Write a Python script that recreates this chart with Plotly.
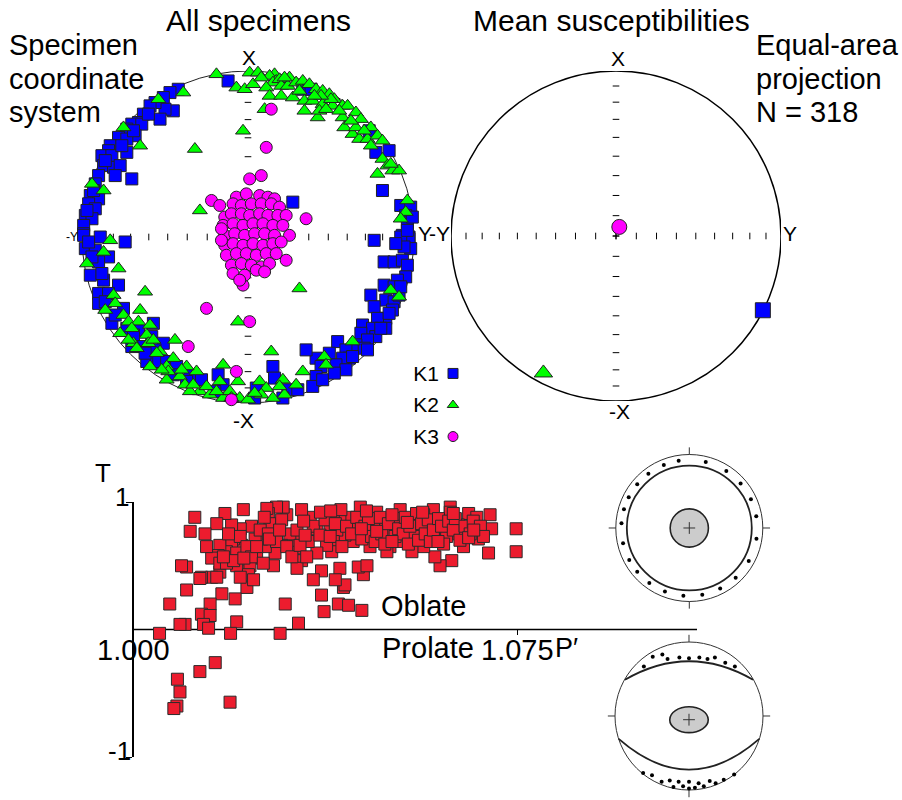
import numpy as np
import plotly.graph_objects as go

W, H = 902, 800
FONT = "Liberation Sans, Arial, sans-serif"

# ---------------- DATA ----------------
# Equal-area projected positions (east, north) on the unit primitive circle, all specimens
k1_all = [
    (-0.12,0.94),(-0.42,0.89),(-0.47,0.87),(-0.51,0.84),(-0.45,0.76),(-0.50,0.77),(-0.56,0.81),(-0.59,0.79),
    (-0.53,0.71),(-0.63,0.74),(-0.66,0.69),(-0.70,0.68),(-0.64,0.68),(-0.73,0.65),(-0.68,0.61),(-0.78,0.60),
    (-0.73,0.59),(-0.83,0.55),(-0.84,0.52),(-0.73,0.51),(-0.88,0.49),(-0.82,0.49),(-0.87,0.43),(-0.81,0.42),
    (-0.77,0.43),(-0.80,0.37),(-0.70,0.35),(-0.90,0.37),(-0.92,0.32),(-0.95,0.25),(-0.90,0.23),(-0.96,0.20),
    (-0.92,0.17),(-0.98,0.13),(-0.94,0.11),(-0.99,0.07),(-0.99,0.02),(-0.89,0.00),(-0.74,-0.03),
    (0.33,0.89),(0.38,0.89),(0.73,0.64),(0.77,0.51),(0.85,0.52),(0.81,0.28),(0.27,0.21),(0.92,0.19),
    (0.98,0.18),(0.95,0.13),(0.96,0.09),(0.99,0.12),(0.93,0.01),(0.97,0.00),(0.76,-0.02),
    (-0.99,0.01),(-0.98,-0.07),(-0.92,-0.08),(-0.84,-0.12),(-0.90,-0.15),(-0.95,-0.23),(-0.87,-0.26),
    (-0.78,-0.29),(-0.90,-0.34),(-0.84,-0.34),(-0.90,-0.40),(-0.86,-0.39),(-0.75,-0.43),(-0.82,-0.52),
    (-0.57,-0.52),(-0.73,-0.55),(-0.66,-0.56),(-0.69,-0.59),(-0.58,-0.60),(-0.51,-0.64),(-0.63,-0.66),
    (-0.56,-0.68),(-0.55,-0.75),(-0.61,-0.75),(-0.49,-0.75),(-0.43,-0.78),(-0.35,-0.83),(-0.28,-0.86),
    (-0.37,-0.87),(-0.18,-0.83),(-0.15,-0.89),(-0.20,-0.93),
    (0.97,-0.01),(0.92,0.00),(0.98,-0.07),(0.82,-0.15),(0.88,-0.15),(0.93,-0.14),(0.96,-0.17),(0.95,-0.24),
    (0.90,-0.26),(0.82,-0.29),(0.88,-0.30),(0.74,-0.35),(0.83,-0.38),(0.88,-0.39),(0.91,-0.35),(0.76,-0.42),
    (0.87,-0.44),(0.83,-0.49),(0.78,-0.49),(0.69,-0.53),(0.75,-0.55),(0.83,-0.55),(0.77,-0.60),(0.68,-0.58),
    (0.72,-0.62),(0.54,-0.63),(0.65,-0.65),(0.70,-0.67),(0.59,-0.68),(0.61,-0.73),(0.57,-0.73),(0.49,-0.70),
    (0.53,-0.77),(0.59,-0.80),(0.41,-0.73),(0.35,-0.68),(0.44,-0.78),(0.41,-0.84),(0.39,-0.90),(0.15,-0.78),
    (0.16,-0.85),(0.05,-0.91),(0.04,-0.97),(0.24,-0.92),(0.21,-0.97),
    (-0.60,0.74),(-0.69,0.64),(-0.76,0.55),(-0.86,0.46),(-0.93,0.28),(-0.97,0.16),(-0.96,-0.03),
    (-0.94,-0.12),(-0.88,-0.22),(-0.80,-0.47),(-0.70,-0.66),(-0.62,-0.70),(-0.45,-0.83),(0.30,-0.92),
    (0.45,-0.86),(0.52,-0.82),(0.63,-0.72),(0.72,-0.68),(0.80,-0.55),(0.85,-0.46),(0.92,-0.30),
    (0.94,-0.06),(0.89,-0.04),(0.96,0.04),
]
k2_all = [
    (-0.19,0.98),(-0.39,0.87),(-0.54,0.83),(-0.75,0.66),(-0.65,0.55),(-0.32,0.53),(-0.94,0.32),(-0.87,0.28),
    (-0.29,0.16),(-0.03,0.64),(-0.07,0.90),(-0.02,0.89),
    (0.01,0.99),(0.06,0.99),(0.16,0.98),(0.13,0.97),(0.17,0.94),(0.15,0.93),(0.19,0.95),(0.03,0.92),
    (0.11,0.90),(0.13,0.85),(0.20,0.91),(0.24,0.91),(0.25,0.96),(0.29,0.93),(0.33,0.94),(0.37,0.92),
    (0.41,0.89),(0.45,0.88),(0.49,0.86),(0.52,0.83),(0.20,0.85),(0.27,0.84),(0.34,0.82),(0.39,0.82),
    (0.45,0.80),(0.51,0.79),(0.50,0.83),(0.44,0.85),(0.34,0.76),(0.42,0.72),(0.43,0.76),(0.47,0.77),
    (0.57,0.79),(0.60,0.79),(0.65,0.75),(0.68,0.71),(0.57,0.72),(0.58,0.66),(0.63,0.62),(0.65,0.66),
    (0.74,0.66),(0.67,0.59),(0.72,0.59),(0.78,0.61),(0.81,0.58),(0.74,0.55),(0.81,0.47),(0.84,0.43),
    (0.87,0.40),(0.91,0.40),(0.78,0.38),(0.86,0.44),(0.96,0.22),(0.95,0.15),(0.92,0.11),(0.10,0.77),
    (-0.83,-0.02),(-0.87,-0.09),(-0.97,-0.16),(-0.78,-0.19),(-0.81,-0.35),(-0.62,-0.33),(-0.86,-0.44),
    (-0.65,-0.44),(-0.75,-0.47),(-0.72,-0.51),(-0.66,-0.51),(-0.59,-0.53),(-0.61,-0.59),(-0.77,-0.58),
    (-0.69,-0.64),(-0.67,-0.67),(-0.60,-0.64),(-0.53,-0.69),(-0.44,-0.62),(-0.45,-0.73),(-0.49,-0.78),
    (-0.59,-0.78),(-0.41,-0.84),(-0.49,-0.86),(-0.48,-0.81),(-0.38,-0.89),(-0.29,-0.93),(-0.35,-0.93),
    (-0.23,-0.95),(-0.17,-0.87),(-0.15,-0.97),(-0.06,-0.51),(-0.06,-0.87),(-0.11,-0.93),(-0.05,-0.97),
    (-0.31,-0.81),(-0.37,-0.78),(-0.15,-0.77),(0.31,-0.31),
    (0.86,-0.32),(0.91,-0.36),(0.63,-0.63),(0.46,-0.72),(0.47,-0.77),(0.33,-0.81),(0.14,-0.69),
    (0.21,-0.86),(0.29,-0.89),(0.07,-0.87),(0.11,-0.91),(0.08,-0.95),(0.15,-0.97),(0.22,-0.95),
    (0.00,-0.98),(0.19,-0.90),
    (0.08,0.96),(0.22,0.96),(0.31,0.88),(0.40,0.85),(0.55,0.76),(0.62,0.70),(0.70,0.64),(-0.55,-0.70),
    (-0.52,-0.80),(-0.40,-0.80),(-0.33,-0.89),(-0.25,-0.90),(-0.19,-0.93),(-0.10,-0.97),(0.04,-0.94),
    (-0.70,-0.55),(-0.80,-0.40),(-0.72,-0.62),(-0.57,-0.62),
]
k3_all = [
    (0.14,0.77),(0.11,0.54),(0.08,0.37),(0.01,0.35),(-0.22,0.22),(-0.17,0.19),(0.35,0.11),(0.25,0.01),
    (0.23,-0.14),(-0.03,-0.29),(-0.25,-0.43),(0.01,-0.51),(-0.36,-0.66),(-0.07,-0.81),(-0.10,-0.98),
    (-0.07,0.24),(-0.01,0.26),(0.07,0.25),(0.12,0.24),(0.16,0.23),
    (-0.09,0.20),(-0.04,0.19),(0.02,0.20),(0.08,0.20),(0.14,0.20),(0.19,0.18),
    (-0.14,0.12),(-0.10,0.14),(-0.04,0.14),(0.01,0.13),(0.07,0.14),(0.12,0.13),(0.18,0.13),(0.23,0.13),
    (-0.15,0.07),(-0.09,0.08),(-0.03,0.07),(0.03,0.08),(0.09,0.08),(0.15,0.07),(0.21,0.07),
    (-0.14,0.01),(-0.08,0.02),(-0.02,0.01),(0.04,0.02),(0.10,0.02),(0.16,0.01),(-0.16,0.05),
    (-0.14,-0.05),(-0.09,-0.04),(-0.03,-0.05),(0.03,-0.04),(0.09,-0.05),(0.15,-0.04),(0.20,-0.03),
    (-0.16,-0.02),(-0.13,-0.11),(-0.07,-0.10),(-0.01,-0.10),(0.05,-0.11),(0.11,-0.10),(0.17,-0.10),
    (-0.10,-0.17),(-0.04,-0.16),(0.02,-0.17),(0.08,-0.18),(0.13,-0.16),
    (-0.09,-0.22),(-0.02,-0.23),(0.05,-0.20),(0.10,-0.21),(-0.05,-0.26),
]
# Mean principal axes (east, north)
mean_axes = {"K1": (0.89, -0.45), "K2": (-0.44, -0.83), "K3": (0.02, 0.055)}

# Jelinek plot: (P', T) per specimen
pt_pairs = [
    (1.0748,0.79),(1.0748,0.61),(1.0697,0.90),(1.0700,0.79),(1.0694,0.60),(1.0655,0.91),(1.0671,0.88),
    (1.0674,0.71),(1.0645,0.65),(1.0619,0.96),(1.0619,0.92),(1.0635,0.82),(1.0635,0.75),(1.0622,0.54),
    (1.0599,0.50),(1.0589,0.57),(1.0586,0.94),(1.0586,0.83),(1.0593,0.74),(1.0612,0.73),(1.0567,0.90),
    (1.0560,0.78),(1.0567,0.65),(1.0544,0.61),(1.0547,0.73),(1.0550,0.85),(1.0521,0.94),(1.0521,0.87),
    (1.0524,0.69),(1.0508,0.81),(1.0501,0.65),(1.0495,0.61),(1.0495,0.75),(1.0488,0.85),(1.0475,0.92),
    (1.0469,0.82),(1.0462,0.65),(1.0443,0.96),(1.0449,0.43),(1.0439,0.49),(1.0456,0.50),(1.0429,0.83),
    (1.0429,0.69),(1.0413,0.74),(1.0420,0.88),(1.0403,0.86),(1.0403,0.48),(1.0397,0.78),(1.0390,0.69),
    (1.0390,0.92),(1.0387,0.61),(1.0384,0.82),(1.0377,0.66),(1.0367,0.46),(1.0358,0.79),(1.0351,0.39),
    (1.0358,0.60),(1.0345,0.88),(1.0341,0.69),(1.0328,0.94),(1.0328,0.54),(1.0322,0.64),(1.0319,0.48),
    (1.0315,0.70),(1.0305,0.75),(1.0299,0.90),(1.0292,0.96),(1.0289,0.66),(1.0279,0.96),(1.0276,0.60),
    (1.0273,0.77),(1.0263,0.91),(1.0260,0.95),(1.0266,0.83),(1.0257,0.65),(1.0273,0.50),(1.0250,0.71),
    (1.0240,0.56),(1.0237,0.71),(1.0230,0.81),(1.0221,0.46),(1.0227,0.50),(1.0221,0.33),(1.0214,0.94),
    (1.0211,0.66),(1.0208,0.79),(1.0201,0.50),(1.0195,0.71),(1.0191,0.67),(1.0191,0.82),(1.0181,0.61),
    (1.0178,0.91),(1.0168,0.45),(1.0168,0.66),(1.0165,0.58),(1.0162,0.83),(1.0152,0.56),(1.0152,0.41),
    (1.0139,0.75),(1.0132,0.41),(1.0129,0.40),(1.0119,0.88),(1.0110,0.77),(1.0103,0.49),(1.0093,0.50),
    (1.0103,0.31),(1.0070,0.20),(1.0142,0.65),(1.0172,0.28),(1.0198,0.24),(1.0201,0.06),(1.0296,0.20),
    (1.0322,0.05),(1.0367,0.27),(1.0372,0.14),(1.0400,0.20),(1.0420,0.19),(1.0446,0.15),(1.0410,0.33),
    (1.0413,0.35),(1.0394,0.39),(1.0149,0.20),(1.0132,0.12),(1.0149,0.11),(1.0136,0.04),(1.0146,0.01),
    (1.0100,0.04),(1.0090,0.04),(1.0050,-0.03),(1.0189,-0.03),(1.0286,-0.03),(1.0159,-0.26),
    (1.0129,-0.33),(1.0085,-0.39),(1.0090,-0.49),(1.0084,-0.60),(1.0078,-0.62),(1.0188,-0.57),
    (1.0351,0.81),(1.0364,0.74),(1.0374,0.86),(1.0384,0.73),(1.0394,0.83),(1.0407,0.65),(1.0416,0.81),
    (1.0426,0.75),(1.0436,0.88),(1.0446,0.71),(1.0452,0.81),(1.0459,0.87),(1.0465,0.73),(1.0472,0.69),
    (1.0482,0.88),(1.0485,0.75),(1.0491,0.67),(1.0498,0.83),(1.0505,0.90),(1.0511,0.73),(1.0518,0.79),
    (1.0527,0.75),(1.0531,0.88),(1.0537,0.67),(1.0540,0.81),(1.0553,0.91),(1.0557,0.70),(1.0563,0.83),
    (1.0570,0.75),(1.0576,0.86),(1.0580,0.69),(1.0586,0.78),(1.0596,0.87),(1.0602,0.81),(1.0606,0.67),
    (1.0616,0.85),(1.0625,0.78),(1.0629,0.87),(1.0638,0.70),(1.0648,0.81),(1.0658,0.75),(1.0664,0.85),
    (1.0678,0.81),(1.0684,0.73),(1.0201,0.60),(1.0208,0.73),(1.0221,0.65),(1.0230,0.57),(1.0240,0.65),
    (1.0247,0.78),(1.0253,0.52),(1.0263,0.75),(1.0279,0.69),(1.0289,0.86),(1.0299,0.65),(1.0309,0.57),
    (1.0319,0.78),(1.0325,0.66),(1.0332,0.85),(1.0338,0.57),(1.0224,0.43),(1.0234,0.39),(1.0162,0.41),
    (1.0168,0.52),(1.0181,0.52),(1.0195,0.54),(1.0208,0.41),
    (1.0335,0.74),(1.0365,0.92),(1.0405,0.94),(1.0445,0.79),(1.0475,0.77),(1.0505,0.69),(1.0535,0.84),
    (1.0565,0.92),(1.0595,0.69),(1.0625,0.91),(1.0655,0.72),(1.0665,0.78),(1.0455,0.93),(1.0385,0.93),
    (1.0265,0.71),(1.0285,0.78),(1.0215,0.56),(1.0185,0.75),(1.0175,0.57),(1.0255,0.88),
]
p_ticks = [1.000, 1.075]
p_tick_text = ["1.000", "1.075"]
t_ticks = [-1, 1]
t_tick_text = ["-1", "1"]

legend_labels = ["K1", "K2", "K3"]
legend_symbols = ["square", "triangle-up", "circle"]
legend_colors = ["#0000FF", "#00FF00", "#FF00FF"]

plunge_ticks = [10, 20, 30, 40, 50, 60, 70, 80, 90]

# schematic fabric icons (unit circle)
oblate_dot_angles = [10,25,41,57,76,99,112,127,140,153,164,176,193,208,220,234,249,265,281,297,313,331,351]
prolate_dots = [
    (-0.61,0.67),(-0.49,0.80),(-0.36,0.83),(-0.29,0.77),(-0.13,0.79),(0.00,0.78),(0.14,0.79),(0.25,0.77),
    (0.35,0.79),(0.49,0.72),(0.62,0.67),
    (-0.62,-0.77),(-0.50,-0.80),(-0.37,-0.89),(-0.26,-0.87),(-0.21,-0.96),(-0.14,-0.89),(-0.08,-0.95),
    (0.00,-0.89),(0.00,-0.98),(0.08,-0.97),(0.13,-0.91),(0.20,-0.95),(0.28,-0.88),(0.36,-0.91),
    (0.47,-0.86),(0.61,-0.79),
]

# ---------------- helpers ----------------
def xdom(cx, half):
    return [max(0, (cx - half) / W), min(1, (cx + half) / W)]

def ydom(cy, half):
    return [max(0, 1 - (cy + half) / H), min(1, 1 - (cy - half) / H)]

def unzip(pairs):
    return [p[0] for p in pairs], [p[1] for p in pairs]

fig = go.Figure()

def net_ticks(xa, ya, t=0.02):
    radii = [np.sqrt(2) * np.sin(np.radians((90 - p) / 2)) for p in plunge_ticks]
    xs, ys = [], []
    for r in radii:
        for s in (1, -1):
            xs += [s * r, s * r, None]; ys += [-t, t, None]
            xs += [-t, t, None]; ys += [s * r, s * r, None]
    fig.add_trace(go.Scatter(x=xs, y=ys, mode="lines", line=dict(color="black", width=1),
                             xaxis=xa, yaxis=ya, hoverinfo="skip", showlegend=False, cliponaxis=False))

# ---- left net: all specimens ----
net_ticks("x", "y")
for pairs, sym, col, name, size in [(k1_all, "square", "#0000FF", "K1", 12),
                                    (k2_all, "triangle-up", "#00FF00", "K2", 13),
                                    (k3_all, "circle", "#FF00FF", "K3", 12)]:
    xs, ys = unzip(pairs)
    fig.add_trace(go.Scatter(x=xs, y=ys, mode="markers", name=name, showlegend=False,
                             marker=dict(symbol=sym, size=size, color=col, line=dict(color="#222", width=1)),
                             xaxis="x", yaxis="y", cliponaxis=False))

# ---- right net: mean susceptibilities ----
net_ticks("x2", "y2")
for name, sym, col, size in [("K1", "square", "#0000FF", 15), ("K2", "triangle-up", "#00FF00", 16),
                             ("K3", "circle", "#FF00FF", 15)]:
    mx, my = mean_axes[name]
    fig.add_trace(go.Scatter(x=[mx], y=[my], mode="markers", showlegend=False,
                             marker=dict(symbol=sym, size=size, color=col, line=dict(color="#222", width=1)),
                             xaxis="x2", yaxis="y2", cliponaxis=False))

# ---- Jelinek plot ----
px_, pt_ = unzip(pt_pairs)
fig.add_trace(go.Scatter(x=px_, y=pt_, mode="markers", showlegend=False,
                         marker=dict(symbol="square", size=12, color="#EC1C2E", line=dict(color="#2a2a2a", width=1)),
                         xaxis="x3", yaxis="y3", cliponaxis=False))

# ---- legend (K1..K3) ----
fig.add_trace(go.Scatter(x=[0, 0, 0], y=legend_labels, mode="markers", showlegend=False,
                         marker=dict(symbol=legend_symbols, size=10, color=legend_colors,
                                     line=dict(color="#222", width=1)),
                         xaxis="x6", yaxis="y6", cliponaxis=False))

# ---- icons ----
ring_r = 0.925
fig.add_trace(go.Scatter(x=[ring_r * np.cos(np.radians(a)) for a in oblate_dot_angles],
                         y=[ring_r * np.sin(np.radians(a)) for a in oblate_dot_angles],
                         mode="markers", marker=dict(size=4, color="black"), showlegend=False,
                         xaxis="x4", yaxis="y4", cliponaxis=False))
dx, dy = unzip(prolate_dots)
fig.add_trace(go.Scatter(x=dx, y=dy, mode="markers", marker=dict(size=4, color="black"), showlegend=False,
                         xaxis="x5", yaxis="y5", cliponaxis=False))
for xa, ya in [("x4", "y4"), ("x5", "y5")]:
    xs = [0, 0, None, 0, 0, None, 1, 1.1, None, -1, -1.1, None, -0.08, 0.08, None, 0, 0]
    ys = [1, 1.1, None, -1, -1.1, None, 0, 0, None, 0, 0, None, 0, 0, None, -0.08, 0.08]
    if xa == "x5":
        ys = [1, 1.1, None, -1, -1.1, None, 0, 0, None, 0, 0, None, -0.05, -0.05, None, -0.13, 0.03]
    fig.add_trace(go.Scatter(x=xs, y=ys, mode="lines", line=dict(color="#333", width=1), showlegend=False,
                             xaxis=xa, yaxis=ya, cliponaxis=False, hoverinfo="skip"))

# ---------------- shapes ----------------
shapes = [
    dict(type="circle", xref="x", yref="y", x0=-1, y0=-1, x1=1, y1=1, line=dict(color="#222", width=1), layer="below"),
    dict(type="circle", xref="x2", yref="y2", x0=-1, y0=-1, x1=1, y1=1, line=dict(color="black", width=1.5), layer="below"),
    # top icon (oblate)
    dict(type="circle", xref="x4", yref="y4", x0=-1, y0=-1, x1=1, y1=1, line=dict(color="#333", width=1), layer="below"),
    dict(type="circle", xref="x4", yref="y4", x0=-0.85, y0=-0.85, x1=0.85, y1=0.85, line=dict(color="#222", width=1.8), layer="below"),
    dict(type="circle", xref="x4", yref="y4", x0=-0.26, y0=-0.26, x1=0.26, y1=0.26, fillcolor="#cccccc",
         line=dict(color="#222", width=1.6), layer="below"),
    # bottom icon (prolate)
    dict(type="circle", xref="x5", yref="y5", x0=-1, y0=-1, x1=1, y1=1, line=dict(color="#333", width=1), layer="below"),
    dict(type="path", xref="x5", yref="y5", path="M -0.865,0.49 Q 0,0.99 0.865,0.49", line=dict(color="#222", width=1.8), layer="below"),
    dict(type="path", xref="x5", yref="y5", path="M -0.95,-0.31 Q 0,-1.14 0.95,-0.31", line=dict(color="#222", width=1.8), layer="below"),
    dict(type="circle", xref="x5", yref="y5", x0=-0.26, y0=-0.225, x1=0.26, y1=0.125, fillcolor="#cccccc",
         line=dict(color="#222", width=1.6), layer="below"),
    # zero line of Jelinek plot (T = 0)
    dict(type="line", xref="x3", yref="y3", x0=1.0, x1=1.1102, y0=0, y1=0, line=dict(color="black", width=1.5), layer="below"),
]

# ---------------- annotations ----------------
def ann(text, x, y, size=29, xanchor="center"):
    return dict(text=text, x=x / W, y=1 - y / H, xref="paper", yref="paper", showarrow=False,
                xanchor=xanchor, yanchor="middle", font=dict(family=FONT, size=size, color="black"))

annotations = [
    ann("All specimens", 258, 20, 30), ann("Mean susceptibilities", 611, 20, 30),
    ann("Specimen", 7, 45, xanchor="left"), ann("coordinate", 7, 79, xanchor="left"),
    ann("system", 7, 112, xanchor="left"),
    ann("Equal-area", 754, 45, xanchor="left"), ann("projection", 754, 79, xanchor="left"),
    ann("N = 318", 754, 112, xanchor="left"),
    ann("X", 249, 57, 21), ann("-X", 243, 420, 21), ann("Y", 425, 233, 21), ann("-Y", 71.5, 237, 12),
    ann("X", 618, 59, 21), ann("-X", 619, 411, 21), ann("Y", 790, 233, 21), ann("-Y", 439, 233, 21),
    ann("T", 103, 473, 26),
    ann(t_tick_text[1], 122, 497, 26), ann(t_tick_text[0], 119, 751, 26),
    ann(p_tick_text[0], 133, 650, 29), ann("Prolate", 380, 648, 29, xanchor="left"),
    ann(p_tick_text[1], 517, 650, 29), ann("P′", 553, 648, 27, xanchor="left"),
    ann("Oblate", 423, 606, 29),
]

blank = dict(visible=False, showgrid=False, zeroline=False, fixedrange=True, automargin=False)
fig.update_layout(
    width=W, height=H, autosize=False,
    margin=dict(l=0, r=0, t=0, b=0, pad=0, autoexpand=False),
    paper_bgcolor="white", plot_bgcolor="rgba(0,0,0,0)",
    font=dict(family=FONT, color="black"),
    shapes=shapes, annotations=annotations,
    xaxis=dict(blank, domain=xdom(248, 166), range=[-1, 1]),
    yaxis=dict(blank, domain=ydom(237, 166), range=[-1, 1]),
    xaxis2=dict(blank, domain=xdom(616, 165), range=[-1, 1]),
    yaxis2=dict(blank, domain=ydom(236, 165), range=[-1, 1]),
    xaxis3=dict(domain=[134 / W, 697 / W], range=[1.0, 1.1102], anchor="free", position=1 - 629 / H,
                showline=False, showgrid=False, zeroline=False, ticks="outside", ticklen=5, automargin=False,
                tickcolor="black", tickvals=[p_ticks[1]], showticklabels=False),
    yaxis3=dict(domain=ydom(629.5, 127.5), range=[-1, 1], anchor="x3", showline=True, linecolor="black",
                linewidth=1.5, showgrid=False, zeroline=False, ticks="outside", ticklen=6, tickcolor="black",
                automargin=False, tickvals=t_ticks, showticklabels=False),
    xaxis4=dict(blank, domain=xdom(689.3, 73.5 * 1.1), range=[-1.1, 1.1]),
    yaxis4=dict(blank, domain=ydom(528, 73.5 * 1.1), range=[-1.1, 1.1]),
    xaxis5=dict(blank, domain=xdom(689, 74 * 1.1), range=[-1.1, 1.1]),
    yaxis5=dict(blank, domain=ydom(716, 74 * 1.1), range=[-1.1, 1.1]),
    xaxis6=dict(blank, domain=[440 / W, 466 / W], range=[-1, 1]),
    yaxis6=dict(domain=ydom(405, 42), anchor="x6", type="category", categoryarray=legend_labels,
                autorange="reversed", showgrid=False, zeroline=False, showline=False, ticks="",
                automargin=False, tickfont=dict(family=FONT, size=21), fixedrange=True),
)

fig.write_html("out.html", config={"displayModeBar": False},
               post_script="document.body.style.margin='0px';document.body.style.padding='0px';")
